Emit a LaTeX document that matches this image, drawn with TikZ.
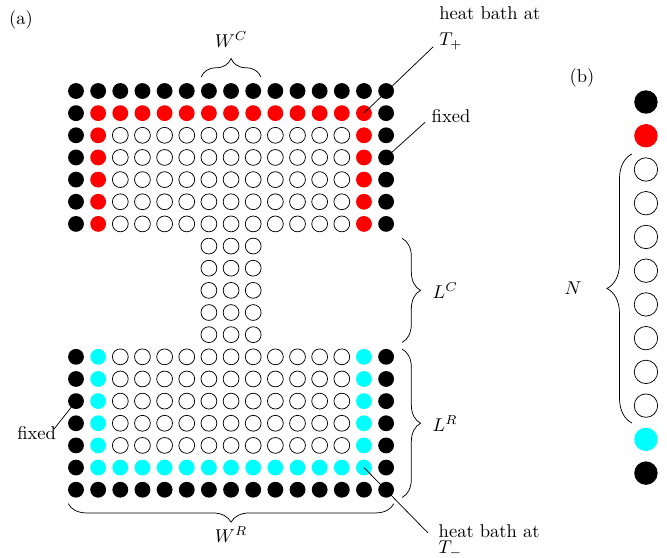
\documentclass[tikz,border=0pt]{standalone}
\usetikzlibrary{decorations.pathreplacing}
\definecolor{aqua}{rgb}{0,1,1}
\definecolor{hotred}{rgb}{1,0,0}

\begin{document}
\begin{tikzpicture}[x=0.42cm, y=0.42cm,
    site/.style={circle, inner sep=0pt, minimum size=0.3cm},
    wall/.style={site, fill=black},
    hot/.style={site, fill=hotred},
    cold/.style={site, fill=aqua},
    free/.style={site, draw, fill=white},
    big/.style={minimum size=0.444cm},
    span/.style={decorate, decoration={brace, amplitude=10pt}},
    note/.style={align=left}]
    \useasboundingbox (-3.431,-21.04) rectangle (26.68,4.108);
    % (a) the lattice
    \foreach \c in {0,...,14} {
        \node[wall] (a-\c-0) at (\c,0) {};
        \node[wall] (a-\c-18) at (\c,-18) {};
    }
    \foreach \r in {1,2,3,4,5,6,12,13,14,15,16,17} {
        \node[wall] (a-0-\r) at (0,-\r) {};
        \node[wall] (a-14-\r) at (14,-\r) {};
    }
    \foreach \c in {1,...,13} {
        \node[hot] (a-\c-1) at (\c,-1) {};
        \node[cold] (a-\c-17) at (\c,-17) {};
    }
    \foreach \r in {2,...,6} {
        \node[hot] (a-1-\r) at (1,-\r) {};
        \node[hot] (a-13-\r) at (13,-\r) {};
    }
    \foreach \r in {12,...,16} {
        \node[cold] (a-1-\r) at (1,-\r) {};
        \node[cold] (a-13-\r) at (13,-\r) {};
    }
    \foreach \r in {2,3,4,5,6,12,13,14,15,16}
        \foreach \c in {2,...,12}
            \node[free] (a-\c-\r) at (\c,-\r) {};
    \foreach \r in {7,...,11}
        \foreach \c in {6,7,8}
            \node[free] (a-\c-\r) at (\c,-\r) {};
    % braces
    \draw[span] (5.65,0.63) -- (8.35,0.63) node[midway, above=12.3pt] {$W^C$};
    \draw[span] (14.72,-6.65) -- (14.72,-11.35) node[midway, right=13pt] {$L^C$};
    \draw[span] (14.72,-11.65) -- (14.72,-18.35) node[midway, right=13pt] {$L^R$};
    \draw[span] (14.35,-18.63) -- (-0.35,-18.63) node[midway, below=8.8pt] {$W^R$};
    % labels
    \node (pa) at (-2.48,3.21) {(a)};
    \node[note, anchor=north west] (bathhot) at (16.11,4.113) {heat bath at\\[2pt]$T_+$};
    \node (fixtop) at (16.93,-1.12) {fixed};
    \node (fixbot) at (-1.78,-15.43) {fixed};
    \node[note, anchor=north west] (bathcold) at (16.08,-19.29) {heat bath at\\[-3.5pt]$T_-$};
    \coordinate (ht) at (16.12,1.99);
    \coordinate (fb) at (-0.99,-15.26);
    \coordinate (hc) at (15.89,-19.95);
    \draw (a-13-1.center) -- (ht);
    \draw (a-14-3.center) -- (fixtop.base west);
    \draw (a-0-14.center) -- (fb);
    \draw (a-13-17.center) -- (hc);
    % (b) the chain
    \node (pb) at (22.84,0.59) {(b)};
    \node[wall, big] (b-0) at (25.73,-0.497) {};
    \node[hot, big] (b-1) at (25.73,-2.02) {};
    \foreach \k in {2,...,9}
        \node[free, big] (b-\k) at (25.73,{-0.497-1.523*\k}) {};
    \node[cold, big] (b-10) at (25.73,-15.727) {};
    \node[wall, big] (b-11) at (25.73,-17.25) {};
    \draw[span, decoration={brace, amplitude=13.5pt}] (25.10,-14.99) -- (25.10,-2.84)
        node[midway, left=23.7pt] {$N$};
\end{tikzpicture}
\end{document}
